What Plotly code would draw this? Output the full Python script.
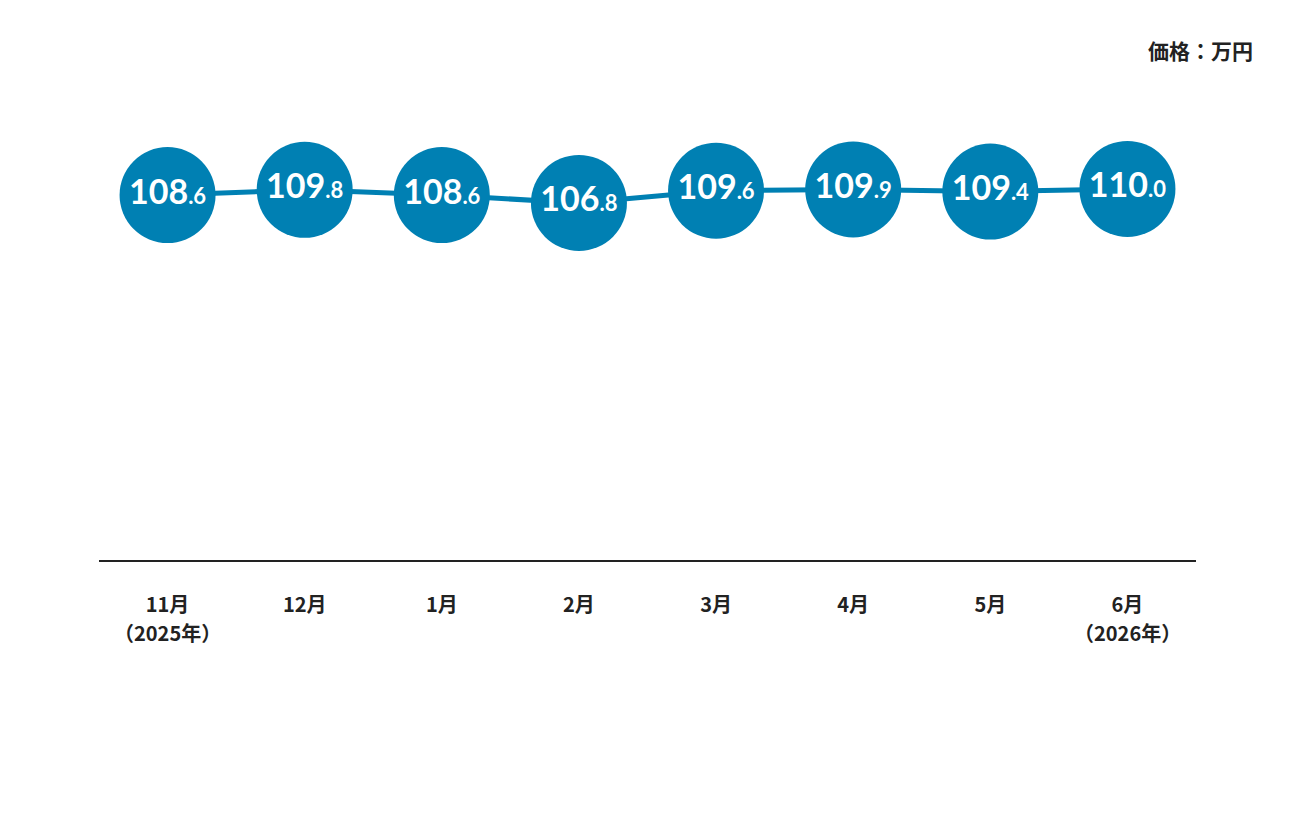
import plotly.graph_objects as go

months = ['11月', '12月', '1月', '2月', '3月', '4月', '5月', '6月']
years = ['（2025年）', '', '', '', '', '', '', '（2026年）']
prices = [108.6, 109.8, 108.6, 106.8, 109.6, 109.9, 109.4, 110.0]

blue = '#0080b3'

def fmt(v):
    s = '{0:.1f}'.format(v)
    whole, dec = s.split('.')
    return "{0}<span style='font-size:22px'>.{1}</span>".format(whole, dec)

labels = [fmt(v) for v in prices]
xs = list(range(len(months)))

fig = go.Figure()
fig.add_trace(go.Scatter(
    x=xs, y=prices,
    mode='lines+markers+text',
    line=dict(color=blue, width=5),
    marker=dict(size=96, color=blue, line=dict(width=0)),
    text=labels, textposition='middle center',
    textfont=dict(family='Lato', size=34, color='white', weight='bold'),
    hoverinfo='skip',
))

fig.update_layout(
    width=1296, height=816,
    margin=dict(l=91, r=108, t=72, b=264),
    plot_bgcolor='white', paper_bgcolor='white',
    showlegend=False,
    font=dict(family='Noto Sans CJK JP', color='#222222'),
)
fig.update_xaxes(
    range=[-0.5, len(months) - 0.5],
    tickvals=xs, ticktext=months,
    showgrid=False, zeroline=False,
    showline=True, linecolor='#222222', linewidth=2,
    ticks='', ticklabelstandoff=26,
    tickfont=dict(family='Noto Sans CJK JP', size=20, color='#222222', weight='bold'),
)
fig.update_yaxes(range=[25.2, 134.9], visible=False)

# year line under first / last month
for x, yr in zip(xs, years):
    if yr:
        fig.add_annotation(
            text=yr, x=x, xref='x', yref='paper', y=-0.151,
            yanchor='middle', showarrow=False,
            font=dict(family='Noto Sans CJK JP', size=20, color='#222222', weight='bold'),
        )

fig.add_annotation(
    text='価格：万円', xref='paper', yref='paper',
    x=1.054, y=1.0625, xanchor='right', yanchor='middle', showarrow=False,
    font=dict(family='Noto Sans CJK JP', size=21, color='#222222', weight='bold'),
)

fig.write_html('out.html')
